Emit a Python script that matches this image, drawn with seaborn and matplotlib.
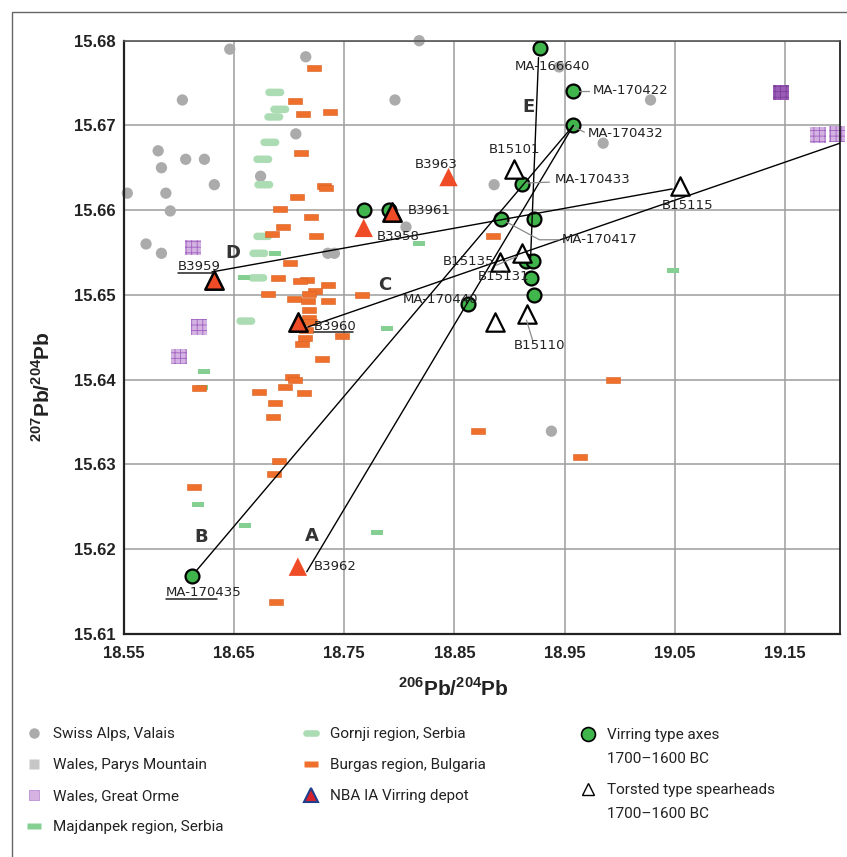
import numpy as np
import matplotlib
matplotlib.use("Agg")
import matplotlib.pyplot as plt
import seaborn as sns
from matplotlib.path import Path
from matplotlib.lines import Line2D
from matplotlib.patches import Rectangle
from matplotlib.font_manager import FontProperties

# ---------------- data ----------------
swiss_x = [18.646, 18.715, 18.603, 18.706, 18.581, 18.606, 18.623, 18.584, 18.674, 18.632,
           18.553, 18.588, 18.592, 18.818, 18.796, 18.985, 19.028, 18.886, 18.806, 18.570,
           18.584, 18.735, 18.741, 18.938, 18.945]
swiss_y = [15.6790, 15.6781, 15.6730, 15.6690, 15.6670, 15.6660, 15.6660, 15.6650, 15.6640, 15.6630,
           15.6620, 15.6620, 15.6599, 15.6800, 15.6730, 15.6679, 15.6730, 15.6630, 15.6580, 15.6560,
           15.6549, 15.6549, 15.6549, 15.6339, 15.6769]

orme_x = [19.1801, 19.1973, 18.6126, 18.6180, 18.5999]
orme_y = [15.6689, 15.6690, 15.6556, 15.6462, 15.6427]
orme_dark_x = [19.1466]
orme_dark_y = [15.6739]

majd_x = [18.6869, 18.6588, 18.6225, 18.6207, 18.8175, 18.7884, 18.6171, 18.6597, 18.7794, 19.0486]
majd_y = [15.6549, 15.6520, 15.6410, 15.6391, 15.6560, 15.6460, 15.6253, 15.6228, 15.6219, 15.6529]

gornji_x = [18.6869, 18.6914, 18.6860, 18.6824, 18.6760, 18.6769, 18.6760, 18.6724, 18.6715, 18.6606]
gornji_y = [15.6739, 15.6719, 15.6710, 15.6680, 15.6660, 15.6630, 15.6569, 15.6549, 15.6520, 15.6469]

burgas_x = [18.7223, 18.7051, 18.7123, 18.7368, 18.7105, 18.7313, 18.7331, 18.7069, 18.6914, 18.7195,
            18.6942, 18.7241, 18.6842, 18.7005, 18.6896, 18.7159, 18.7096, 18.7350, 18.7232, 18.6806,
            18.7178, 18.7041, 18.7168, 18.7350, 18.7658, 18.7178, 18.7178, 18.7187, 18.7150, 18.7477,
            18.7141, 18.7114, 18.7295, 18.7023, 18.7050, 18.6960, 18.7132, 18.6724, 18.6180, 18.6869,
            18.6851, 18.6905, 18.6860, 18.6135, 18.6878, 18.8854, 18.8718, 18.9643, 18.9942]
burgas_y = [15.6768, 15.6729, 15.6713, 15.6716, 15.6667, 15.6628, 15.6626, 15.6615, 15.6601, 15.6592,
            15.6580, 15.6569, 15.6572, 15.6538, 15.6520, 15.6518, 15.6516, 15.6512, 15.6505, 15.6501,
            15.6501, 15.6495, 15.6493, 15.6493, 15.6500, 15.6482, 15.6473, 15.6468, 15.6458, 15.6451,
            15.6449, 15.6442, 15.6424, 15.6403, 15.6400, 15.6391, 15.6384, 15.6385, 15.6390, 15.6372,
            15.6356, 15.6304, 15.6288, 15.6273, 15.6137, 15.6569, 15.6339, 15.6309, 15.6399]

axes_x = [18.9272, 18.9580, 18.9580, 18.9117, 18.8918, 18.9226, 18.7676, 18.7903, 18.8619,
          18.9145, 18.9217, 18.9199, 18.9226, 18.6117]
axes_y = [15.6791, 15.6741, 15.6700, 15.6631, 15.6589, 15.6589, 15.6600, 15.6600, 15.6489,
          15.6540, 15.6540, 15.6520, 15.6500, 15.6168]

depot_x = [18.8446, 18.7676, 18.7078]          # no outline
depot_y = [15.6639, 15.6579, 15.6179]
depot_edge_x = [18.7930, 18.6316, 18.7078]     # black outline
depot_edge_y = [15.6598, 15.6517, 15.6468]

spear_x = [18.9036, 19.0550, 18.8909, 18.9117, 18.8864, 18.9154]
spear_y = [15.6649, 15.6628, 15.6539, 15.6549, 15.6468, 15.6477]

# mixing lines (start, end)
line_names = ["A", "B", "C", "D", "E"]
line_x0 = [18.7159, 18.6162, 18.7168, 18.6298, 18.9263]
line_y0 = [15.6173, 15.6175, 15.6462, 15.6527, 15.6780]
line_x1 = [18.9580, 18.9580, 19.2000, 19.0477, 18.9190]
line_y1 = [15.6700, 15.6700, 15.6679, 15.6625, 15.6540]
line_letters_x = [18.7204, 18.6198, 18.7866, 18.6488, 18.9172]
line_letters_y = [15.6215, 15.6214, 15.6512, 15.6549, 15.6722]

# sample labels
lab_text = ["MA-166640", "MA-170422", "MA-170432", "MA-170433", "B15101", "B3963", "B3961",
            "B3958", "MA-170417", "B15135", "B15131", "MA-170440", "B15110", "B15115",
            "B3959", "B3960", "MA-170435", "B3962"]
lab_x = [18.9390, 18.9752, 18.9707, 18.9407, 18.9045, 18.8338, 18.8075,
         18.7794, 18.9471, 18.8392, 18.8709, 18.8030, 18.9272, 19.0613,
         18.5990, 18.7223, 18.5881, 18.7223]
lab_y = [15.6769, 15.6741, 15.6691, 15.6636, 15.6671, 15.6654, 15.6599,
         15.6569, 15.6565, 15.6539, 15.6522, 15.6494, 15.6440, 15.6606,
         15.6534, 15.6462, 15.6148, 15.6179]
lab_ha = ["center", "left", "left", "left", "center", "center", "left",
          "left", "left", "left", "left", "left", "center", "center",
          "left", "left", "left", "left"]

# leader lines (grey) and underlines (dark)
lead_x = [[18.9634, 18.9725], [18.9589, 18.9679], [18.9154, 18.9362],
          [18.8972, 18.9271, 18.9452], [18.8882, 18.9063], [18.9154, 18.9208]]
lead_y = [[15.6741, 15.6741], [15.6698, 15.6692], [15.6632, 15.6633],
          [15.6586, 15.6565, 15.6565], [15.6535, 15.6545], [15.6470, 15.6447]]
under_x = [[18.5990, 18.6310], [18.7223, 18.7577], [18.5881, 18.6343]]
under_y = [[15.6526, 15.6526], [15.6456, 15.6456], [15.6141, 15.6141]]

x_ticks = [18.55, 18.65, 18.75, 18.85, 18.95, 19.05, 19.15]
y_ticks = [15.61, 15.62, 15.63, 15.64, 15.65, 15.66, 15.67, 15.68]

legend1 = ["Swiss Alps, Valais", "Wales, Parys Mountain", "Wales, Great Orme", "Majdanpek region, Serbia"]
legend2 = ["Gornji region, Serbia", "Burgas region, Bulgaria", "NBA IA Virring depot"]
legend3a = ["Virring type axes", "1700\u20131600 BC"]
legend3b = ["Torsted type spearheads", "1700\u20131600 BC"]

# ---------------- style ----------------
sns.set_theme(style="white")
plt.rcParams["font.family"] = ["DejaVu Sans"]
plt.rcParams["hatch.linewidth"] = 0.6

C_SWISS = "#ababab"
C_ORME = "#d4b2e2"
C_ORME_E = "#a063c2"
C_ORME_D = "#9b5cb8"
C_MAJD = "#86cf92"
C_GORN = "#acdcb3"
C_BURG = "#ee702c"
C_RED = "#ef4b26"
C_GREEN = "#3fb54b"


def bar_path(w, h, rounded=False):
    if not rounded:
        v = [(-w / 2, -h / 2), (w / 2, -h / 2), (w / 2, h / 2), (-w / 2, h / 2), (-w / 2, -h / 2)]
        return Path(v, closed=True)
    r = h / 2
    t = np.linspace(-np.pi / 2, np.pi / 2, 13)
    right = np.column_stack([w / 2 - r + r * np.cos(t), r * np.sin(t)])
    left = np.column_stack([-w / 2 + r - r * np.cos(t), -r * np.sin(t)])
    v = np.vstack([right, left, right[:1]])
    return Path(v, closed=True)


burg_m = bar_path(13, 5)
majd_m = bar_path(12, 5)
gorn_m = bar_path(19, 7.5, rounded=True)

W, H = 847, 857
fig = plt.figure(figsize=(W / 100, H / 100), dpi=100)
ax = fig.add_axes([124 / W, 1 - 633.6 / H, (840 - 124) / W, (633.6 - 40.7) / H])

# background reference fields
sns.scatterplot(x=swiss_x, y=swiss_y, marker="o", s=66, color=C_SWISS, edgecolor="none",
                ax=ax, zorder=2, clip_on=False)
sns.scatterplot(x=gornji_x, y=gornji_y, marker=gorn_m, s=187, color=C_GORN, edgecolor="none",
                ax=ax, zorder=2)
sns.scatterplot(x=majd_x, y=majd_y, marker=majd_m, s=75, color=C_MAJD, edgecolor="none",
                ax=ax, zorder=2)
sns.scatterplot(x=burgas_x, y=burgas_y, marker=burg_m, s=88, color=C_BURG, edgecolor="#d85e1c",
                linewidth=0.4, ax=ax, zorder=2.2)
sns.scatterplot(x=orme_x, y=orme_y, marker="s", s=128, color=C_ORME, edgecolor=C_ORME_E,
                linewidth=0.0, hatch="+++", ax=ax, zorder=2, clip_on=False)
sns.scatterplot(x=orme_dark_x, y=orme_dark_y, marker="s", s=128, color=C_ORME_D, edgecolor="#7a3f99",
                linewidth=0.0, hatch="+++", ax=ax, zorder=2, clip_on=False)

# samples
sns.scatterplot(x=axes_x, y=axes_y, marker="o", s=100, color=C_GREEN, edgecolor="black",
                linewidth=1.6, ax=ax, zorder=3)
sns.scatterplot(x=depot_x, y=depot_y, marker="^", s=175, color=C_RED, edgecolor="none",
                ax=ax, zorder=3)
sns.scatterplot(x=depot_edge_x, y=depot_edge_y, marker="^", s=175, color=C_RED, edgecolor="black",
                linewidth=1.8, ax=ax, zorder=3)
sns.scatterplot(x=spear_x, y=spear_y, marker="^", s=175, color="white", edgecolor="black",
                linewidth=1.6, ax=ax, zorder=3)

# mixing lines
for i in range(len(line_names)):
    sns.lineplot(x=[line_x0[i], line_x1[i]], y=[line_y0[i], line_y1[i]], sort=False,
                 estimator=None, color="black", linewidth=1.0, ax=ax, zorder=4)
    ax.text(line_letters_x[i], line_letters_y[i], line_names[i], fontsize=13, fontweight="bold",
            color="#333333", ha="center", va="center", zorder=6)

for xs, ys in zip(lead_x, lead_y):
    ax.plot(xs, ys, color="#8a8a8a", lw=0.9, zorder=4)
for xs, ys in zip(under_x, under_y):
    ax.plot(xs, ys, color="#222222", lw=1.1, zorder=4)

for t, x, y, ha in zip(lab_text, lab_x, lab_y, lab_ha):
    ax.text(x, y, t, fontsize=9.5, color="#222222", ha=ha, va="center", zorder=6)

# axes formatting
ax.set_xlim(18.55, 19.20)
ax.set_ylim(15.61, 15.68)
ax.set_xticks(x_ticks)
ax.set_yticks(y_ticks)
ax.set_xticklabels([f"{v:.2f}" for v in x_ticks])
ax.set_yticklabels([f"{v:.2f}" for v in y_ticks])
tick_fp = FontProperties(family=["Liberation Sans", "DejaVu Sans"], weight="bold", size=12)
for lab in ax.get_xticklabels() + ax.get_yticklabels():
    lab.set_fontproperties(tick_fp)
    lab.set_color("#222222")
ax.tick_params(axis="both", length=0)
ax.tick_params(axis="x", pad=9)
ax.tick_params(axis="y", pad=6)
ax.grid(True, color="#9c9c9c", linewidth=1.1)
ax.set_axisbelow(True)
ax.set_xlabel("")
ax.set_ylabel("")
for side, col, lw in [("left", "#222222", 1.6), ("bottom", "#222222", 1.6),
                      ("top", "#555555", 1.2), ("right", "#111111", 1.2)]:
    ax.spines[side].set_visible(True)
    ax.spines[side].set_color(col)
    ax.spines[side].set_linewidth(lw)

lab_fp = FontProperties(family=["Liberation Sans Narrow", "Liberation Sans"], weight="bold", size=15)
fig.text(453 / W, 1 - 688 / H, r"$^{\mathregular{206}}$Pb/$^{\mathregular{204}}$Pb",
         fontproperties=lab_fp, ha="center", va="center", color="#222222")
fig.text(42 / W, 1 - 387 / H, r"$^{\mathregular{207}}$Pb/$^{\mathregular{204}}$Pb",
         fontproperties=lab_fp, ha="center", va="center", rotation=90, color="#222222")

# outer frame
fig.add_artist(Rectangle((12 / W, -0.1), 1.2, 1.1 - 12 / H, transform=fig.transFigure,
                         fill=False, edgecolor="#666666", linewidth=1.0))

# legends
leg_fp = FontProperties(family=["Liberation Sans Narrow", "Roboto"], size=11)
blank = Line2D([], [], ls="none", marker=None)
h1 = [Line2D([], [], ls="none", marker="o", ms=7.5, mfc=C_SWISS, mec="none"),
      Line2D([], [], ls="none", marker="s", ms=7.5, mfc="#c6c6c6", mec="none"),
      Line2D([], [], ls="none", marker="s", ms=7.5, mfc=C_ORME, mec="#b07fcc", mew=0.5),
      Line2D([], [], ls="none", marker=majd_m, ms=10, mfc=C_MAJD, mec="none")]
h2 = [Line2D([], [], ls="none", marker=gorn_m, ms=12, mfc=C_GORN, mec="none"),
      Line2D([], [], ls="none", marker=burg_m, ms=10, mfc=C_BURG, mec="none"),
      Line2D([], [], ls="none", marker="^", ms=10, mfc="#d8222a", mec="#1f3e8c", mew=1.5)]
h3a = [Line2D([], [], ls="none", marker="o", ms=10, mfc=C_GREEN, mec="black", mew=1.2), blank]
h3b = [Line2D([], [], ls="none", marker="^", ms=9, mfc="white", mec="black", mew=1.0), blank]

common = dict(loc="upper left", bbox_transform=fig.transFigure, frameon=False, prop=leg_fp,
              handlelength=1.1, handletextpad=0.65, borderpad=0, borderaxespad=0,
              labelcolor="#222222")
fig.legend(handles=h1, labels=legend1, bbox_to_anchor=(26 / W, 1 - 727 / H), labelspacing=1.12, **common)
fig.legend(handles=h2, labels=legend2, bbox_to_anchor=(303 / W, 1 - 727 / H), labelspacing=1.12, **common)
fig.legend(handles=h3a, labels=legend3a, bbox_to_anchor=(580 / W, 1 - 728 / H), labelspacing=0.68, **common)
fig.legend(handles=h3b, labels=legend3b, bbox_to_anchor=(580 / W, 1 - 783 / H), labelspacing=0.68, **common)

fig.savefig("out.png", dpi=100)
